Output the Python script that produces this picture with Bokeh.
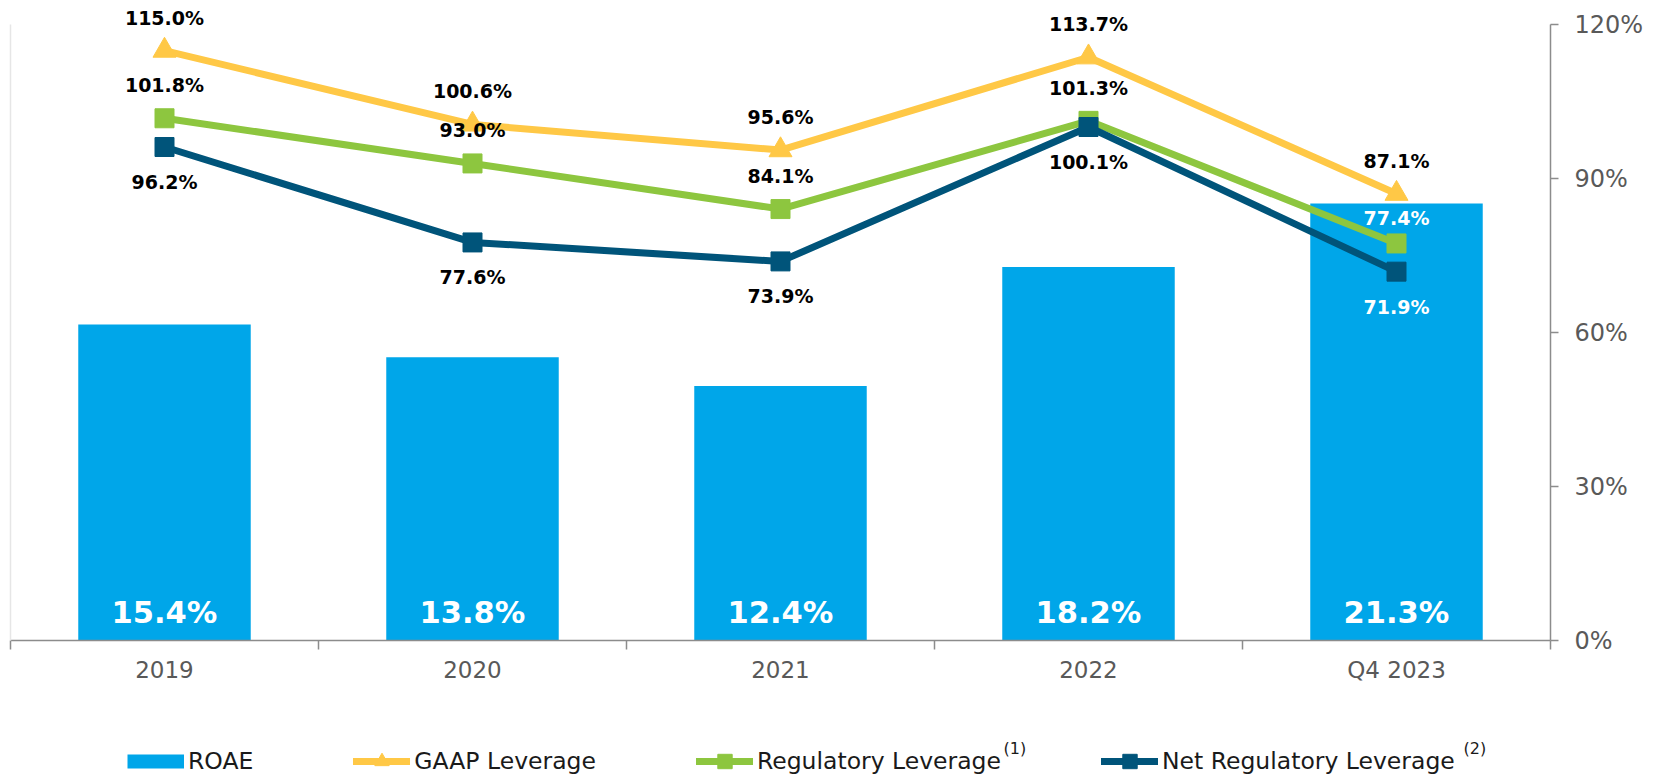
import numpy as np
from bokeh.plotting import figure
from bokeh.layouts import column
from bokeh.models import (Range1d, LinearAxis, FixedTicker, ColumnDataSource,
                          Legend, LegendItem, Label)
from bokeh.core.properties import value
from bokeh.embed import file_html
from bokeh.resources import INLINE

# ---- data ----
categories = ["2019", "2020", "2021", "2022", "Q4 2023"]
roae = [15.4, 13.8, 12.4, 18.2, 21.3]
gaap_leverage = [115.0, 100.6, 95.6, 113.7, 87.1]
regulatory_leverage = [101.8, 93.0, 84.1, 101.3, 77.4]
net_regulatory_leverage = [96.2, 77.6, 73.9, 100.1, 71.9]
right_ticks = [0, 30, 60, 90, 120]
right_tick_labels = ["0%", "30%", "60%", "90%", "120%"]
roae_axis_max = 30
leverage_axis_max = 120
legend_labels = ["ROAE", "GAAP Leverage", "Regulatory Leverage", "Net Regulatory Leverage"]
legend_notes = ["(1)", "(2)"]

# ---- style ----
FONT = "DejaVu Sans"
BAR = "#00A6E9"
YEL = "#FFC846"
GRN = "#8DC63F"
DRK = "#00547A"
AXIS = "#8c8c8c"
TICK_TXT = "#595959"
LEG_TXT = "#1a1a1a"

W = 1662
H_MAIN, H_LEG = 700, 77
B_LEFT, B_RIGHT, B_TOP, B_BOTTOM = 10, 112, 8, 60
Y_END = 123.2
frame_h = H_MAIN - B_TOP - B_BOTTOM
px_per_unit = frame_h / Y_END
ABOVE, ABOVE_IN, BELOW = 33, 25, 35
LW = 7

x = np.arange(len(categories)) + 0.5
bar_level = [v * leverage_axis_max / roae_axis_max for v in roae]


def inside(vals, off):
    # True when the label sits inside the ROAE bar
    return [(v + off / px_per_unit) < b for v, b in zip(vals, bar_level)]


gaap_in = inside(gaap_leverage, ABOVE)
reg_in = inside(regulatory_leverage, ABOVE)
net_in = inside(net_regulatory_leverage, -BELOW)

src = ColumnDataSource(dict(
    x=x, roae=roae, gaap=gaap_leverage, reg=regulatory_leverage, net=net_regulatory_leverage,
    zero=[0] * len(categories),
    roae_lbl=[f"{v:.1f}%" for v in roae],
    gaap_lbl=[f"{v:.1f}%" for v in gaap_leverage],
    reg_lbl=[f"{v:.1f}%" for v in regulatory_leverage],
    net_lbl=[f"{v:.1f}%" for v in net_regulatory_leverage],
    gaap_col=["white" if f else "black" for f in gaap_in],
    reg_col=["white" if f else "black" for f in reg_in],
    net_col=["white" if f else "black" for f in net_in],
    gaap_off=[-(ABOVE_IN if f else ABOVE) for f in gaap_in],
    reg_off=[-(ABOVE_IN if f else ABOVE) for f in reg_in],
))

p = figure(width=W, height=H_MAIN, output_backend="svg", toolbar_location=None,
           x_range=Range1d(0, len(categories)), y_range=Range1d(0, Y_END),
           x_axis_location=None, y_axis_location=None,
           min_border_left=B_LEFT, min_border_right=B_RIGHT,
           min_border_top=B_TOP, min_border_bottom=B_BOTTOM)
p.extra_y_ranges = {"roae": Range1d(0, roae_axis_max * Y_END / leverage_axis_max)}
p.outline_line_color = None
p.grid.visible = False
p.background_fill_color = "white"
p.border_fill_color = "white"

p.vbar(x="x", top="roae", width=0.56, source=src, y_range_name="roae",
       fill_color=BAR, line_color=None)
p.line("x", "gaap", source=src, line_color=YEL, line_width=LW)
p.scatter("x", "gaap", source=src, marker="triangle", size=23, color=YEL)
p.line("x", "reg", source=src, line_color=GRN, line_width=LW)
p.scatter("x", "reg", source=src, marker="square", size=19, color=GRN)
p.line("x", "net", source=src, line_color=DRK, line_width=LW)
p.scatter("x", "net", source=src, marker="square", size=19, color=DRK)

# bar labels
p.text("x", "zero", text="roae_lbl", source=src, y_range_name="roae",
       text_font=value(FONT), text_font_style="bold", text_font_size="30.5px",
       text_color="white", text_align="center", text_baseline="middle", y_offset=-28)
# line labels
p.text("x", "gaap", text="gaap_lbl", source=src, text_font=value(FONT),
       text_font_style="bold", text_font_size="19px", text_color="gaap_col",
       text_align="center", text_baseline="middle", y_offset="gaap_off")
p.text("x", "reg", text="reg_lbl", source=src, text_font=value(FONT),
       text_font_style="bold", text_font_size="19px", text_color="reg_col",
       text_align="center", text_baseline="middle", y_offset="reg_off")
p.text("x", "net", text="net_lbl", source=src, text_font=value(FONT),
       text_font_style="bold", text_font_size="19px", text_color="net_col",
       text_align="center", text_baseline="middle", y_offset=BELOW)

# bottom axis: labels at category centres, ticks at category boundaries
xaxis = LinearAxis(
    ticker=FixedTicker(ticks=[float(v) for v in x],
                       minor_ticks=[float(v) for v in range(len(categories) + 1)]),
    major_label_overrides={float(xi): c for xi, c in zip(x, categories)},
    axis_line_color=AXIS, axis_line_width=1.5,
    major_tick_line_color=None, major_tick_in=0, major_tick_out=0,
    minor_tick_line_color=AXIS, minor_tick_line_width=1.5, minor_tick_in=0, minor_tick_out=9,
    major_label_text_font=FONT, major_label_text_font_size="23px",
    major_label_text_color=TICK_TXT, major_label_standoff=7)
p.add_layout(xaxis, "below")

# right axis (leverage)
raxis = LinearAxis(
    ticker=FixedTicker(ticks=right_ticks, minor_ticks=[]), bounds=(0, leverage_axis_max),
    major_label_overrides={t: l for t, l in zip(right_ticks, right_tick_labels)},
    axis_line_color=AXIS, axis_line_width=1.5,
    major_tick_line_color=AXIS, major_tick_line_width=1.5, major_tick_in=0, major_tick_out=8,
    minor_tick_line_color=None,
    major_label_text_font=FONT, major_label_text_font_size="24px",
    major_label_text_color=TICK_TXT, major_label_standoff=16)
p.add_layout(raxis, "right")

# faint left axis line (ROAE scale, unlabeled)
laxis = LinearAxis(
    y_range_name="roae", bounds=(0, roae_axis_max),
    ticker=FixedTicker(ticks=[], minor_ticks=[]),
    axis_line_color="#e6e6e6", axis_line_width=1.5,
    major_tick_line_color=None, minor_tick_line_color=None,
    major_tick_in=0, major_tick_out=0, minor_tick_in=0, minor_tick_out=0,
    major_label_standoff=0, major_label_text_font_size="0px")
p.add_layout(laxis, "left")

# ---- legend strip: the same series, in a view window that shows none of them ----
q = figure(width=W, height=H_LEG, output_backend="svg", toolbar_location=None,
           x_range=Range1d(1000, 1001), y_range=Range1d(-1001, -1000),
           x_axis_location=None, y_axis_location=None, min_border=0)
q.outline_line_color = None
q.grid.visible = False
q.background_fill_color = "white"
q.border_fill_color = "white"

lr = q.line("x", "roae", source=src, line_color=BAR, line_width=14, line_cap="butt")
lg = [q.line("x", "gaap", source=src, line_color=YEL, line_width=LW, line_cap="round"),
      q.scatter("x", "gaap", source=src, marker="triangle", size=23, color=YEL)]
lrg = [q.line("x", "reg", source=src, line_color=GRN, line_width=LW, line_cap="round"),
       q.scatter("x", "reg", source=src, marker="square", size=19, color=GRN)]
ln = [q.line("x", "net", source=src, line_color=DRK, line_width=LW, line_cap="round"),
      q.scatter("x", "net", source=src, marker="square", size=19, color=DRK)]

legend = Legend(
    items=[LegendItem(label=legend_labels[0], renderers=[lr]),
           LegendItem(label=legend_labels[1], renderers=lg),
           LegendItem(label=legend_labels[2], renderers=lrg),
           LegendItem(label=legend_labels[3], renderers=ln)],
    orientation="horizontal", location=(117, -2), padding=0, margin=0,
    spacing=100, label_standoff=4, glyph_width=57, glyph_height=36,
    label_text_font=FONT, label_text_font_size="23.5px", label_text_color=LEG_TXT,
    border_line_color=None, background_fill_alpha=0)
q.add_layout(legend)

for txt, sx in zip(legend_notes, (993, 1453)):
    q.add_layout(Label(x=sx, y=29, x_units="screen", y_units="screen", text=txt,
                       text_font=FONT, text_font_size="16px", text_color=LEG_TXT,
                       text_baseline="middle"))

layout = column(p, q, spacing=0)
open("out.html", "w").write(file_html(layout, INLINE))
